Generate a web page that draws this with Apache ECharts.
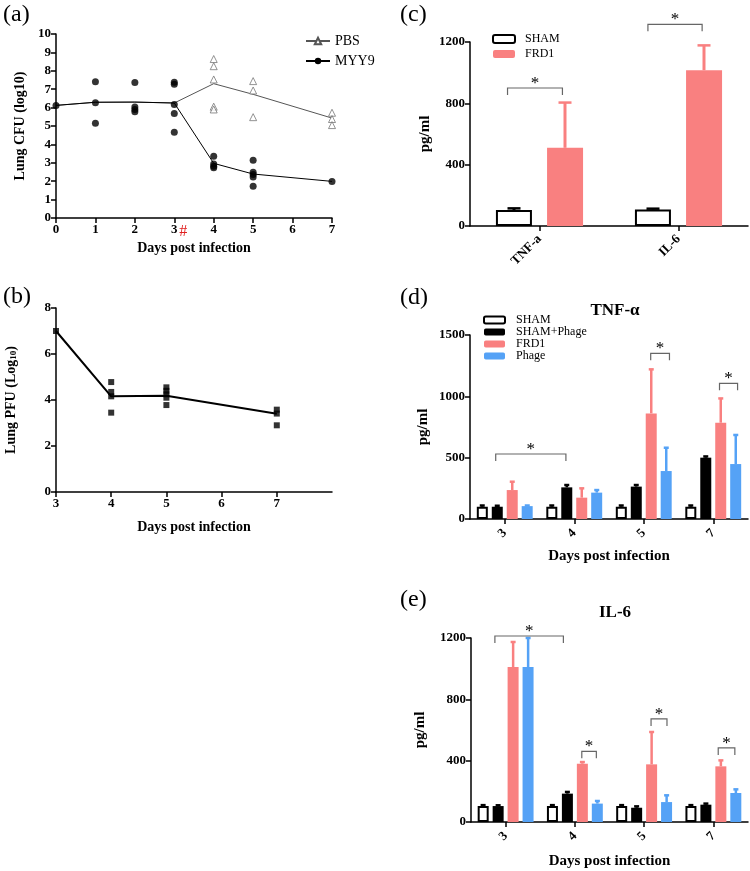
<!DOCTYPE html>
<html>
<head>
<meta charset="utf-8">
<script src="https://cdn.jsdelivr.net/npm/echarts@6/dist/echarts.min.js"></script>
<style>
  html, body { margin: 0; background: #fff; }
  #fig { width: 750px; height: 871px; }
</style>
</head>
<body>
<div id="fig"></div>
<script>
  // ---- (a) lung CFU ----
  const daysA = [0, 1, 2, 3, 4, 5, 7];
  const pbsMean = [6.12, 6.29, 6.3, 6.25, 7.3, 6.72, 5.43];
  const myy9Mean = [6.12, 6.29, 6.3, 6.25, 2.97, 2.39, 1.99];
  const pbsDays = [4, 5, 7];
  const pbsValues = [[8.64, 8.25, 7.53, 6.05, 5.9], [7.44, 6.93, 5.48], [5.72, 5.38, 5.05]];
  const myy9Days = [0, 1, 2, 3, 4, 5, 7];
  const myy9Values = [
    [6.12],
    [7.4, 6.27, 5.15],
    [7.36, 6.03, 5.89, 5.77],
    [7.38, 7.27, 6.17, 5.68, 4.66],
    [3.36, 2.93, 2.81, 2.73],
    [3.14, 2.48, 2.36, 2.23, 1.73],
    [1.99]
  ];

  // ---- (b) lung PFU ----
  const daysB = [3, 4, 5, 7];
  const pfuMean = [7.0, 4.16, 4.18, 3.4];
  const pfuValues = [[7.0], [4.78, 4.35, 4.16, 3.45], [4.55, 4.4, 4.25, 4.1, 3.78], [3.58, 3.41, 2.9]];

  // ---- (c) cytokines ----
  const cytokines = ['TNF-a', 'IL-6'];
  const cSham = [104, 108];
  const cShamSd = [11, 5];
  const cFrd1 = [510, 1016];
  const cFrd1Sd = [295, 162];
  const cBrackets = [[0, -0.23, 0, 0.165, 900], [1, -0.22, 1, 0.17, 1315]];

  // ---- (d) TNF-α and (e) IL-6 by day ----
  const dayLabels = ['3', '4', '5', '7'];
  const groups = ['SHAM', 'SHAM+Phage', 'FRD1', 'Phage'];
  const tnfMean = [[100, 100, 100, 100], [100, 258, 264, 500], [236, 174, 861, 785], [105, 215, 391, 448]];
  const tnfSd = [[10, 10, 10, 10], [8, 19, 13, 10], [68, 76, 359, 198], [5, 21, 190, 237]];
  const tnfBrackets = [[0, -0.13, 1, -0.12, 530], [2, 0.1, 2, 0.37, 1351], [3, 0.09, 3, 0.35, 1106]];
  const il6Mean = [[104, 104, 104, 104], [104, 185, 93, 113], [1011, 380, 376, 363], [1011, 120, 130, 189]];
  const il6Sd = [[6, 6, 6, 6], [5, 11, 9, 7], [163, 11, 211, 39], [189, 17, 44, 24]];
  const il6Brackets = [[0, -0.155, 1, -0.166, 1213], [1, 0.1, 1, 0.31, 461], [2, 0.1, 2, 0.33, 672], [3, 0.07, 3, 0.31, 483]];

  const FONT = 'Liberation Serif';
  const RED = '#f98080';
  const BLUE = '#55a2f6';
  const groupStyle = [
    { color: '#fff', borderColor: '#000', borderWidth: 2 },
    { color: '#000' },
    { color: RED },
    { color: BLUE }
  ];

  const pairs = (days, lists) => {
    const out = [];
    days.forEach((d, i) => lists[i].forEach((v) => out.push([d, v])));
    return out;
  };

  function axis(gridIndex, extra) {
    const lbl = Object.assign({ color: '#000', fontFamily: FONT, fontWeight: 'bold', fontSize: 13, margin: 5 }, extra.axisLabel || {});
    if (extra.type === 'value' && !lbl.formatter) lbl.formatter = (v) => String(v);
    const tick = Object.assign({ show: true, length: 5, lineStyle: { color: '#000', width: 1.5 } }, extra.axisTick || {});
    const nts = Object.assign({ color: '#000', fontFamily: FONT, fontWeight: 'bold', fontSize: 14 }, extra.nameTextStyle || {});
    return Object.assign({}, extra, {
      gridIndex,
      axisLine: { show: true, onZero: false, lineStyle: { color: '#000', width: 1.5 } },
      axisTick: tick,
      axisLabel: lbl,
      splitLine: { show: false },
      nameLocation: 'middle',
      nameTextStyle: nts
    });
  }

  function errorSeries(ax, means, sds, k, n, barW, gapPx, capW, lw, color) {
    return {
      type: 'custom', xAxisIndex: ax, yAxisIndex: ax, z: 1, silent: true,
      data: means.map((m, i) => [i, m, m + sds[i]]),
      encode: { x: 0, y: [1, 2] },
      renderItem(params, api) {
        const base = api.coord([api.value(0), api.value(1)]);
        const top = api.coord([api.value(0), api.value(2)]);
        const x = base[0] + (k - (n - 1) / 2) * (barW + gapPx);
        return {
          type: 'group',
          children: [
            { type: 'line', shape: { x1: x, y1: base[1], x2: x, y2: top[1] }, style: { stroke: color, lineWidth: lw } },
            { type: 'line', shape: { x1: x - capW / 2, y1: top[1], x2: x + capW / 2, y2: top[1] }, style: { stroke: color, lineWidth: 2.5 } }
          ]
        };
      }
    };
  }

  function bracketSeries(ax, list, drop) {
    return {
      type: 'custom', xAxisIndex: ax, yAxisIndex: ax, z: 5, silent: true, clip: false,
      data: list,
      encode: { x: [0, 2], y: 4 },
      renderItem(params, api) {
        const band = api.size([1, 0])[0];
        const y = api.coord([0, api.value(4)])[1];
        const x1 = api.coord([api.value(0), 0])[0] + api.value(1) * band;
        const x2 = api.coord([api.value(2), 0])[0] + api.value(3) * band;
        return {
          type: 'group',
          children: [
            { type: 'polyline', shape: { points: [[x1, y + drop], [x1, y], [x2, y], [x2, y + drop]] }, style: { stroke: '#666', lineWidth: 1.2, fill: null } },
            { type: 'text', style: { text: '*', x: (x1 + x2) / 2, y: y + 4, align: 'center', verticalAlign: 'bottom', font: '17px "Liberation Serif"', fill: '#000' } }
          ]
        };
      }
    };
  }

  const chart = echarts.init(document.getElementById('fig'));

  const series = [
    // (a)
    {
      name: 'PBS', type: 'line', xAxisIndex: 0, yAxisIndex: 0,
      data: daysA.map((d, i) => [d, pbsMean[i]]),
      showSymbol: false, symbol: 'triangle', symbolSize: 8,
      itemStyle: { color: '#fff', borderColor: '#555', borderWidth: 1 },
      lineStyle: { color: '#555', width: 1 }
    },
    {
      name: 'MYY9', type: 'line', xAxisIndex: 0, yAxisIndex: 0,
      data: daysA.map((d, i) => [d, myy9Mean[i]]),
      showSymbol: false, symbol: 'circle', symbolSize: 7,
      itemStyle: { color: '#000' },
      lineStyle: { color: '#000', width: 1 }
    },
    {
      type: 'scatter', xAxisIndex: 0, yAxisIndex: 0, z: 3,
      data: pairs(pbsDays, pbsValues), symbol: 'triangle', symbolSize: 7,
      itemStyle: { color: '#fff', borderColor: '#777', borderWidth: 1 }
    },
    {
      type: 'scatter', xAxisIndex: 0, yAxisIndex: 0, z: 4,
      data: pairs(myy9Days, myy9Values), symbol: 'circle', symbolSize: 7,
      itemStyle: { color: '#000' }
    },
    // (b)
    {
      type: 'line', xAxisIndex: 1, yAxisIndex: 1,
      data: daysB.map((d, i) => [d, pfuMean[i]]),
      showSymbol: false, lineStyle: { color: '#000', width: 2 }
    },
    {
      type: 'scatter', xAxisIndex: 1, yAxisIndex: 1, z: 3,
      data: pairs(daysB, pfuValues), symbol: 'rect', symbolSize: 6,
      itemStyle: { color: '#000' }
    },
    // (c)
    { name: 'SHAM', type: 'bar', xAxisIndex: 2, yAxisIndex: 2, z: 2, data: cSham, barWidth: 36, barGap: '42%', itemStyle: groupStyle[0] },
    { name: 'FRD1', type: 'bar', xAxisIndex: 2, yAxisIndex: 2, z: 2, data: cFrd1, barWidth: 36, barGap: '42%', itemStyle: groupStyle[2] },
    errorSeries(2, cSham, cShamSd, 0, 2, 36, 15, 13, 3, '#000'),
    errorSeries(2, cFrd1, cFrd1Sd, 1, 2, 36, 15, 13, 3, RED),
    bracketSeries(2, cBrackets, 7)
  ];

  // (d) and (e)
  const errColor = ['#000', '#000', RED, BLUE];
  [[3, tnfMean, tnfSd, tnfBrackets], [4, il6Mean, il6Sd, il6Brackets]].forEach(([ax, means, sds, br]) => {
    groups.forEach((g, k) => {
      series.push({ name: g, type: 'bar', xAxisIndex: ax, yAxisIndex: ax, z: 2, data: means[k], barWidth: 11, barGap: '36%', itemStyle: groupStyle[k] });
    });
    groups.forEach((g, k) => series.push(errorSeries(ax, means[k], sds[k], k, 4, 11, 4, 5, 2.5, errColor[k])));
    series.push(bracketSeries(ax, br, 7));
  });

  const legendText = { color: '#000', fontFamily: FONT, fontSize: 12 };

  chart.setOption({
    animation: false,
    grid: [
      { left: 56, top: 34, width: 276, height: 184 },
      { left: 56, top: 308, width: 276, height: 184 },
      { left: 470, top: 42, width: 278, height: 184 },
      { left: 470, top: 335, width: 278, height: 184 },
      { left: 471, top: 638, width: 277, height: 184 }
    ],
    xAxis: [
      axis(0, { type: 'value', min: 0, max: 7, interval: 1, name: 'Days post infection', nameGap: 23 }),
      axis(1, {
        type: 'value', min: 3, max: 8, name: 'Days post infection', nameGap: 28,
        axisTick: { customValues: [3, 4, 5, 6, 7] },
        axisLabel: { customValues: [3, 4, 5, 6, 7] }
      }),
      axis(2, { type: 'category', data: cytokines, axisTick: { alignWithLabel: true }, axisLabel: { rotate: 45, fontSize: 13, margin: 11 } }),
      axis(3, { type: 'category', data: dayLabels, name: 'Days post infection', nameGap: 30, axisTick: { alignWithLabel: true }, axisLabel: { rotate: 45, margin: 12 }, nameTextStyle: { fontSize: 15 } }),
      axis(4, { type: 'category', data: dayLabels, name: 'Days post infection', nameGap: 32, axisTick: { alignWithLabel: true }, axisLabel: { rotate: 45, margin: 12 }, nameTextStyle: { fontSize: 15 } })
    ],
    yAxis: [
      axis(0, { type: 'value', min: 0, max: 10, interval: 1, name: 'Lung CFU (log10)', nameGap: 29 }),
      axis(1, {
        type: 'value', min: 0, max: 8, interval: 2, name: 'Lung PFU (Log{sub|10})', nameGap: 38,
        nameTextStyle: { rich: { sub: { fontFamily: FONT, fontWeight: 'bold', fontSize: 9, verticalAlign: 'bottom', lineHeight: 10 } } }
      }),
      axis(2, { type: 'value', min: 0, max: 1200, interval: 400, name: 'pg/ml', nameGap: 37, nameTextStyle: { fontSize: 15 } }),
      axis(3, { type: 'value', min: 0, max: 1500, interval: 500, name: 'pg/ml', nameGap: 39, nameTextStyle: { fontSize: 15 } }),
      axis(4, { type: 'value', min: 0, max: 1200, interval: 400, name: 'pg/ml', nameGap: 43, nameTextStyle: { fontSize: 15 } })
    ],
    legend: [
      {
        data: ['PBS', 'MYY9'], left: 300, top: 29, orient: 'vertical', itemGap: 6,
        itemWidth: 24, itemHeight: 8, textStyle: { color: '#000', fontFamily: FONT, fontSize: 14 }, selectedMode: false
      },
      {
        data: ['SHAM', 'FRD1'], left: 487, top: 28, orient: 'vertical', itemGap: 3,
        itemWidth: 22, itemHeight: 8, textStyle: Object.assign({ padding: [0, 0, 0, 5] }, legendText), selectedMode: false
      },
      {
        data: groups, left: 478, top: 309, orient: 'vertical', itemGap: 0,
        itemWidth: 21, itemHeight: 7, textStyle: Object.assign({ padding: [0, 0, 0, 6] }, legendText), selectedMode: false
      }
    ],
    title: [
      { text: 'TNF-α', left: 610, top: 297, textAlign: 'center', textStyle: { fontFamily: FONT, fontWeight: 'bold', fontSize: 17, color: '#000' } },
      { text: 'IL-6', left: 610, top: 599, textAlign: 'center', textStyle: { fontFamily: FONT, fontWeight: 'bold', fontSize: 17, color: '#000' } }
    ],
    graphic: ['(a)', '(b)', '(c)', '(d)', '(e)'].map((t, i) => ({
      type: 'text',
      left: [3, 3, 400, 400, 400][i],
      top: [3, 285, 3, 286, 588][i],
      style: { text: t, font: '24px "Liberation Serif"', fill: '#000' }
    })),
    series
  });

  // red # beside day 3 on panel (a)
  const p3 = chart.convertToPixel({ gridIndex: 0 }, [3, 0]);
  chart.setOption({
    graphic: [{
      type: 'text', id: 'hash', x: p3[0] + 5, y: p3[1] + 6,
      style: { text: '#', font: '16px "Liberation Serif"', fill: '#e02020' }
    }]
  });
</script>
</body>
</html>
